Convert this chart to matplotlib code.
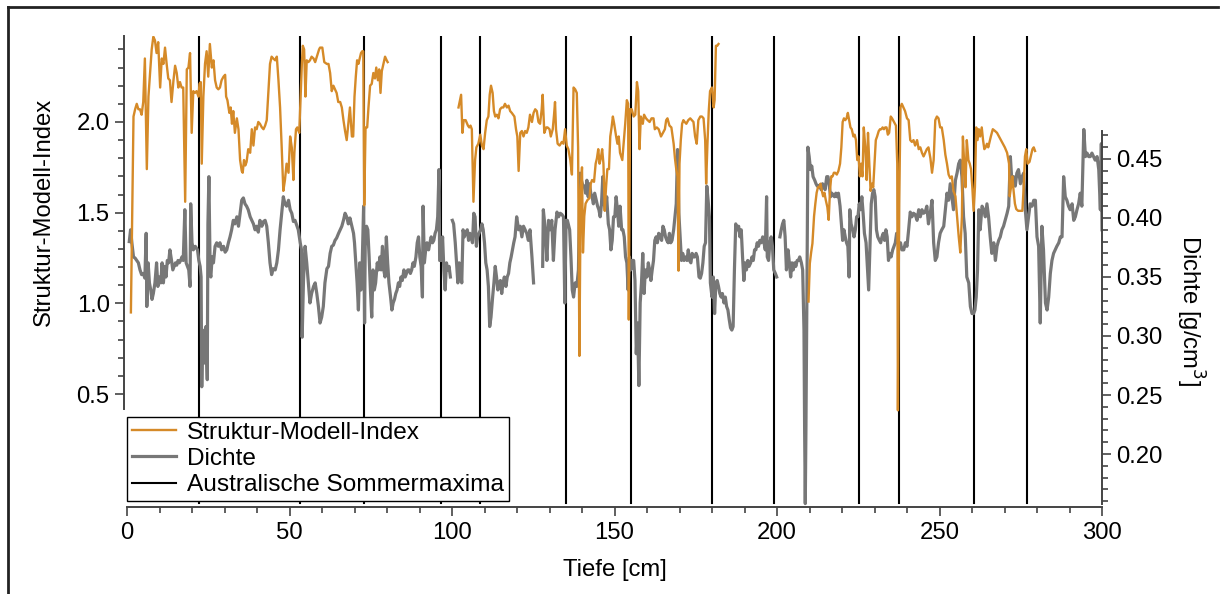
import numpy as np
import matplotlib.pyplot as plt
from matplotlib.lines import Line2D
from matplotlib.ticker import FixedLocator

plt.rcParams["font.family"] = ["Liberation Sans", "DejaVu Sans"]
plt.rcParams["font.size"] = 17.2

NAN = float("nan")

# Struktur-Modell-Index (left axis), gaps as NaN
smi_depth = [
    1.2, 2.0, 2.5, 3.0, 3.5, 4.0, 4.5, 5.0, 5.5, 6.1, 6.6, 7.1, 7.6, 8.1, 8.6, 9.1, 9.6, 10.2, 10.7, 11.2,
    11.7, 12.2, 12.7, 13.2, 13.7, 14.3, 14.8, 15.3, 15.8, 16.3, 16.8, 17.3, 17.9, 18.4, 18.9, 19.4, 19.9,
    20.4, 20.9, 21.4, 22.0, 22.3, 22.7, 23.0, 23.5, 24.0, 24.5, 25.0, 25.5, 26.1, 26.6, 27.1, 27.6, 28.1,
    28.6, 29.1, 29.7, 30.2, 30.5, 30.9, 31.5, 31.9, 32.3, 32.7, 33.2, 33.8, 34.3, 34.8, 35.3, 35.6, 36.0,
    36.4, 36.8, 37.3, 37.9, 38.4, 38.9, 39.4, 39.9, 40.4, 40.9, 41.5, 42.0, 42.5, 43.0, 43.5, 44.0, 44.5,
    45.0, 45.6, 46.1, 46.6, 47.1, 47.6, 48.1, 48.6, 49.1, 49.7, 50.2, 50.7, 51.2, 51.5, 52.0, 52.4, 53.0,
    53.8, 54.1, 54.5, 54.9, 55.3, 55.8, 56.3, 56.8, 57.4, 57.9, 58.4, 59.1, 59.4, 60.1, 60.7, 61.5, 62.0,
    62.5, 63.0, 63.5, 64.0, 64.5, 65.0, 65.6, 66.1, 66.6, 67.1, 67.6, 68.1, 68.6, 69.2, 69.6, 70.0, 70.4,
    70.8, 71.2, 71.6, 72.0, 72.4, 72.7, 73.0, 73.4, 73.9, 74.3, 74.8, 75.3, 75.8, 76.3, 76.7, 77.2, 77.6,
    78.0, 78.4, 78.9, 79.4, 79.9, 80.2, 91.0,
    102.0, 102.8, 103.2, 103.6, 104.2, 104.9, 105.3, 105.7, 106.1, 106.6, 107.1, 107.5, 108.1, 108.7,
    109.2, 109.7, 110.2, 110.7, 111.2, 111.6, 112.0, 112.5, 112.9, 113.3, 113.8, 114.3, 114.8, 115.3,
    115.8, 116.3, 116.9, 117.4, 117.9, 118.4, 119.2, 119.7, 120.1, 120.5, 121.0, 121.5, 122.0, 122.5,
    123.0, 123.5, 124.0, 124.6, 125.1, 125.6, 126.1, 126.6, 127.1, 127.6, 127.9, 128.4, 129.0, 129.4,
    130.0, 130.4, 131.0, 131.4, 131.7, 132.0, 132.5, 133.1, 133.8, 134.3, 134.8, 135.3, 135.8, 136.4,
    136.9, 137.4, 137.9, 138.4, 138.8, 139.2, 139.6, 140.0, 140.3, 140.7, 141.1, 141.7, 142.3, 142.7,
    143.1, 143.7, 144.2, 144.6, 145.0, 145.4, 145.8, 146.2, 146.6, 147.0, 147.4, 147.8, 148.3, 148.7,
    149.1, 149.5, 149.9, 150.5, 150.9, 151.3, 151.7, 152.4, 152.8, 153.3, 153.8, 154.2, 154.4, 154.8,
    155.3, 155.9, 156.4, 156.9, 157.3, 157.7, 158.1, 158.7, 159.1, 159.7, 160.2, 160.8, 161.4, 162.0,
    162.4, 163.0, 163.6, 164.3, 164.9, 165.5, 165.9, 166.3, 166.9, 167.5, 168.2, 168.6, 169.0, 169.4,
    169.7, 170.0, 170.4, 170.8, 171.2, 171.6, 172.1, 172.7, 173.3, 173.8, 174.3, 174.8, 175.3, 175.8,
    176.4, 176.9, 177.4, 177.9, 178.2, 178.6, 179.0, 179.4, 180.0, 180.5, 180.8, 181.2, 181.6, 182.0, 195.0,
    209.7, 210.1, 210.5, 210.9, 211.4, 211.8, 212.2, 212.6, 213.0, 213.4, 213.8, 214.2, 214.6, 215.0,
    215.5, 215.9, 216.3, 216.7, 217.1, 217.5, 217.9, 218.4, 218.9, 219.4, 219.8, 220.2, 220.6, 221.0,
    221.4, 221.8, 222.2, 222.6, 223.0, 223.5, 223.9, 224.3, 224.7, 225.1, 225.5, 225.9, 226.3, 226.7,
    227.2, 227.6, 228.0, 228.4, 228.8, 229.2, 229.6, 230.0, 230.4, 230.8, 231.3, 231.7, 232.1, 232.5,
    232.9, 233.3, 233.7, 234.1, 234.5, 235.0, 235.4, 236.0, 236.6, 237.0, 237.2, 237.6, 238.0, 238.4,
    238.9, 239.4, 240.0, 240.5, 241.0, 241.5, 242.0, 242.5, 243.1, 243.6, 244.1, 244.6, 245.1, 245.6,
    246.1, 246.6, 247.2, 247.7, 248.2, 248.7, 249.2, 249.7, 250.2, 250.7, 251.3, 251.8, 252.3, 252.8,
    253.3, 253.8, 254.3, 254.9, 255.4, 255.9, 256.4, 256.9, 257.2, 257.6, 258.0, 258.4, 258.9, 259.3,
    259.7, 260.1, 260.5, 260.9, 261.3, 261.7, 262.1, 262.5, 263.0, 263.4, 263.8, 264.2, 264.6, 265.0,
    265.4, 265.8, 266.4, 267.1, 267.7, 268.3, 268.9, 269.5, 270.1, 270.8, 271.4, 271.6, 272.0, 272.4,
    272.8, 273.2, 273.6, 274.2, 274.9, 275.5, 275.9, 276.3, 276.7, 277.1, 277.7, 278.1, 278.6, 279.0, 279.4,
]
smi = [
    0.95, 2.03, 2.07, 2.10, 2.07, 2.07, 2.04, 2.11, 2.35, 1.74, 2.14, 2.27, 2.40, 2.47, 2.45, 2.38, 2.44, 2.19,
    2.35, 2.32, 2.41, 2.32, 2.24, 2.23, 2.11, 2.23, 2.31, 2.27, 2.19, 2.22, 2.19, 2.19, 1.56, 2.29, 2.30, 2.38,
    1.94, 2.17, 2.16, 2.17, 2.14, 2.21, 2.22, 1.77, 2.14, 2.32, 2.39, 2.25, 2.43, 2.30, 2.34, 2.23, 2.19, 2.18,
    2.19, 2.23, 2.25, 2.26, 2.14, 2.12, 2.05, 2.08, 1.99, 2.06, 1.94, 2.02, 1.96, 1.79, 1.73, 1.72, 1.79, 1.76,
    1.78, 1.85, 1.83, 1.96, 1.87, 1.97, 1.96, 2.00, 1.99, 1.97, 1.96, 1.98, 2.01, 2.17, 2.32, 2.36, 2.35, 2.34,
    2.36, 2.23, 2.08, 1.86, 1.62, 1.68, 1.77, 1.72, 1.92, 1.86, 1.68, 1.83, 1.96, 1.97, 1.94, 2.32, 2.42, 2.40,
    2.14, 2.34, 2.33, 2.34, 2.36, 2.35, 2.33, 2.36, 2.40, 2.41, 2.41, 2.33, 2.32, 2.32, 2.27, 2.17, 2.20, 2.18,
    2.16, 2.11, 2.11, 2.08, 2.01, 1.95, 1.90, 1.99, 2.08, 1.92, 1.92, 2.14, 2.25, 2.34, 2.32, 2.35, 2.38, 2.39,
    2.39, 1.54, 1.97, 1.97, 2.08, 2.20, 2.21, 2.27, 2.24, 2.30, 2.23, 2.29, 2.16, 2.28, 2.32, 2.36, 2.34, 2.33,
    NAN,
    2.08, 2.15, 1.94, 2.01, 2.01, 1.98, 1.97, 1.98, 1.96, 1.56, 1.79, 1.86, 1.88, 1.93, 1.87, 1.85, 1.94, 2.01,
    2.03, 2.15, 2.20, 2.16, 2.06, 2.03, 2.04, 2.02, 2.07, 2.08, 2.08, 2.10, 2.08, 2.09, 2.06, 2.05, 2.03, 1.96,
    1.92, 1.73, 1.94, 1.95, 1.92, 1.95, 1.94, 1.97, 2.04, 2.00, 2.05, 2.07, 2.06, 2.00, 1.99, 2.07, 2.15, 1.94,
    1.97, 1.97, 1.96, 1.92, 1.96, 2.04, 2.11, 1.96, 1.88, 1.87, 1.89, 1.88, 1.96, 1.87, 1.85, 1.79, 1.71, 2.19,
    2.18, 2.16, 1.86, 0.71, 1.62, 1.75, 1.28, 1.48, 1.55, 1.57, 1.58, 1.66, 1.68, 1.67, 1.77, 1.80, 1.85, 1.77,
    1.80, 1.85, 1.77, 1.51, 1.64, 1.74, 1.74, 1.92, 1.97, 2.03, 1.99, 1.92, 1.88, 1.92, 1.83, 1.79, 1.88, 1.99,
    2.12, 2.10, 0.91, 2.07, 2.07, 2.03, 2.04, 2.22, 2.17, 1.85, 2.03, 1.99, 2.04, 2.02, 2.01, 2.00, 2.02, 2.02,
    1.96, 1.97, 1.96, 1.92, 1.94, 1.96, 2.01, 2.02, 1.98, 1.97, 1.88, 1.80, 1.74, 1.70, 1.18, 1.77, 1.90, 1.99,
    2.01, 2.00, 1.99, 2.01, 2.02, 2.01, 2.00, 1.92, 1.88, 2.01, 2.03, 2.03, 2.02, 1.90, 1.66, 1.88, 2.06, 2.17,
    2.19, 2.08, 2.12, 2.42, 2.42, 2.43,
    NAN,
    1.01, 1.22, 1.28, 1.33, 1.48, 1.55, 1.61, 1.64, 1.64, 1.66, 1.62, 1.59, 1.61, 1.57, 1.53, 1.46, 1.62, 1.70,
    1.70, 1.72, 1.72, 1.71, 1.73, 1.77, 1.86, 2.00, 2.02, 2.01, 2.02, 2.05, 2.01, 1.97, 1.96, 1.92, 1.93, 1.90,
    1.79, 1.81, 1.70, 1.77, 1.70, 1.97, 1.85, 1.68, 1.94, 1.77, 1.62, 1.66, 1.64, 1.77, 1.90, 1.92, 1.95, 1.96,
    1.96, 1.97, 1.96, 1.97, 1.97, 1.93, 1.94, 2.03, 2.02, 2.00, 1.98, 1.77, 0.41, 1.55, 2.08, 2.10, 2.08, 2.06,
    2.02, 2.01, 1.90, 1.89, 1.90, 1.87, 1.90, 1.85, 1.86, 1.83, 1.81, 1.83, 1.85, 1.86, 1.80, 1.72, 1.79, 2.01,
    2.03, 2.02, 1.97, 1.97, 1.90, 1.82, 1.77, 1.71, 1.69, 1.70, 1.62, 1.59, 1.48, 1.37, 1.28, 1.48, 1.92, 1.77,
    1.64, 1.90, 1.79, 1.77, 1.74, 1.64, 1.51, 1.64, 1.97, 1.90, 1.96, 1.92, 1.97, 1.90, 1.85, 1.86, 1.88, 1.86,
    1.89, 1.92, 1.96, 1.95, 1.94, 1.92, 1.90, 1.88, 1.86, 1.83, 1.77, 1.59, 1.64, 1.70, 1.62, 1.55, 1.52, 1.51,
    1.51, 1.51, 1.64, 1.81, 1.85, 1.77, 1.78, 1.81, 1.85, 1.86, 1.84,
]

# Dichte in g/cm^3 (right axis), gaps as NaN
dens_depth = [
    0.7, 1.1, 1.5, 2.0, 2.5, 3.0, 3.5, 4.0, 4.5, 5.0, 5.5, 5.9, 6.1, 6.5, 6.9, 7.3, 7.7, 8.1, 8.6, 9.1, 9.5,
    10.0, 10.4, 10.8, 11.2, 11.6, 12.0, 12.4, 12.8, 13.2, 13.7, 14.1, 14.5, 14.9, 15.3, 15.7, 16.1, 16.5,
    16.9, 17.3, 17.8, 18.2, 18.6, 19.0, 19.4, 19.6, 20.0, 20.4, 21.0, 21.7, 22.1, 22.5, 22.8, 23.0, 23.3,
    23.7, 24.0, 24.3, 24.7, 24.9, 25.2, 25.6, 25.8, 26.2, 26.6, 27.1, 27.6, 28.1, 28.6, 29.1, 29.7, 30.2,
    30.7, 31.2, 31.7, 32.2, 32.7, 33.2, 33.8, 34.3, 34.8, 35.3, 35.8, 36.3, 36.8, 37.3, 37.9, 38.4, 38.9,
    39.4, 39.9, 40.4, 40.9, 41.5, 42.0, 42.5, 43.0, 43.5, 44.0, 44.5, 45.0, 45.6, 46.1, 46.6, 47.1, 47.6,
    48.1, 48.6, 49.1, 49.7, 50.2, 50.7, 51.2, 51.7, 52.2, 52.7, 53.3, 53.7, 53.9, 54.3, 54.8, 55.3, 55.8,
    56.3, 56.8, 57.4, 57.9, 58.4, 58.9, 59.4, 59.9, 60.4, 60.9, 61.5, 62.0, 62.5, 63.0, 63.5, 64.0, 64.5,
    65.1, 65.6, 66.1, 66.6, 67.1, 67.6, 68.1, 68.6, 69.2, 69.7, 70.0, 70.4, 70.8, 71.2, 71.6, 72.0, 72.4,
    72.8, 73.1, 73.3, 73.7, 74.1, 74.5, 74.9, 75.3, 75.7, 76.1, 76.5, 77.0, 77.4, 77.8, 78.2, 78.6, 79.0,
    79.4, 79.8, 80.2, 80.6, 81.1, 81.5, 81.9, 82.3, 82.7, 83.1, 83.5, 83.9, 84.3, 84.7, 85.2, 85.6, 86.0,
    86.4, 86.8, 87.2, 87.6, 88.0, 88.4, 88.9, 89.3, 89.7, 90.1, 90.5, 90.9, 91.1, 91.5, 91.9, 92.3, 92.8,
    93.2, 93.6, 94.0, 94.4, 94.8, 95.2, 95.6, 96.0, 96.2, 96.7, 97.1, 97.5, 97.9, 98.3, 98.7, 99.1, 99.5,
    99.8,
    100.1, 100.5, 101.0, 101.4, 101.8, 102.2, 102.6, 103.0, 103.4, 103.8, 104.2, 104.7, 105.1, 105.5, 105.9,
    106.3, 106.7, 107.1, 107.5, 107.9, 108.3, 108.8, 109.2, 109.6, 110.0, 110.4, 110.8, 111.2, 111.6, 112.0,
    112.5, 112.9, 113.3, 113.7, 114.1, 114.5, 114.9, 115.3, 115.7, 116.1, 116.6, 117.0, 117.4, 117.8, 118.2,
    118.6, 119.0, 119.4, 119.9, 120.5, 121.0, 121.5, 122.0, 122.5, 123.0, 123.5, 124.0, 124.6, 125.1, 126.5,
    127.9, 128.1, 128.7, 129.2, 129.7, 130.2, 130.7, 131.2, 131.7, 132.3, 132.8, 133.3, 133.8, 134.3, 134.7,
    135.1, 135.5, 136.2, 136.6, 137.0, 137.4, 137.9, 138.4, 138.9, 139.4, 139.8, 140.3, 140.7, 141.1, 141.5,
    141.9, 142.3, 142.7, 143.1, 143.5, 143.9, 144.4, 144.8, 145.2, 145.6, 146.0, 146.4, 146.8, 147.2, 147.6,
    148.1, 148.5, 148.9, 149.3, 149.7, 150.1, 150.5, 150.9, 151.3, 151.7, 152.2, 152.6, 153.0, 153.4, 153.8,
    154.2, 154.6, 155.0, 155.4, 155.9, 156.3, 156.7, 157.1, 157.5, 157.9, 158.3, 158.7, 159.1, 159.5, 160.0,
    160.4, 160.8, 161.2, 161.6, 162.0, 162.4, 162.8, 163.2, 163.6, 164.1, 164.5, 164.9, 165.3, 165.7, 166.1,
    166.5, 166.9, 167.3, 167.7, 168.2, 168.6, 169.0, 169.4, 169.8, 170.2, 170.6, 171.0, 171.4, 171.9, 172.3,
    172.7, 173.1, 173.5, 173.9, 174.3, 174.7, 175.1, 175.5, 176.0, 176.4, 176.8, 177.2, 177.6, 178.0, 178.4,
    178.8, 179.2, 179.5, 180.0, 180.4, 180.8, 181.2, 181.6, 182.0, 182.4, 182.8, 183.2, 183.7, 184.1, 184.5,
    184.9, 185.3, 185.7, 186.1, 186.5, 186.9, 187.3, 187.8, 188.2, 188.6, 189.0, 189.4, 189.8, 190.2, 190.6,
    191.0, 191.4, 191.9, 192.3, 192.7, 193.1, 193.5, 193.9, 194.3, 194.7, 195.1, 195.6, 196.0, 196.4, 196.8,
    197.0, 197.4, 197.8, 198.2, 198.6, 199.0, 199.5, 199.9, 200.4,
    200.9, 201.3, 201.7, 202.1, 202.5, 202.9, 203.4, 203.8, 204.2, 204.6, 205.0, 205.4, 205.8, 206.2, 206.6,
    207.0, 207.5, 207.9, 208.3, 208.5, 208.7, 208.9, 209.2, 209.5, 209.9, 210.3, 210.7, 211.1, 211.6, 212.0,
    212.4, 212.8, 213.2, 213.6, 214.0, 214.4, 214.8, 215.3, 215.7, 216.1, 216.5, 216.9, 217.3, 217.7, 218.1,
    218.5, 218.9, 219.4, 219.8, 220.2, 220.6, 221.0, 221.4, 221.8, 222.2, 222.4, 222.8, 223.3, 223.7, 224.1,
    224.5, 224.9, 225.3, 225.7, 226.1, 226.5, 226.9, 227.4, 227.8, 228.2, 228.6, 229.0, 229.4, 229.8, 230.2,
    230.6, 231.0, 231.5, 231.9, 232.3, 232.7, 233.1, 233.5, 233.9, 234.3, 234.7, 235.1, 235.6, 236.0, 236.4,
    236.8, 237.2, 237.6, 238.0, 238.4, 239.0, 239.5, 240.0, 240.5, 241.0, 241.5, 242.0, 242.5, 243.1, 243.6,
    244.1, 244.6, 245.1, 245.6, 246.1, 246.6, 247.2, 247.7, 248.2, 248.7, 249.2, 249.7, 250.2, 250.7, 251.3,
    251.8, 252.3, 252.8, 253.3, 253.8, 254.3, 254.9, 255.4, 255.9, 256.4, 256.9, 257.4, 257.9, 258.4, 259.0,
    259.5, 260.0, 260.5, 260.9, 261.3, 261.7, 262.1, 262.5, 263.1, 263.6, 264.1, 264.6, 265.1, 265.6, 266.1,
    266.7, 267.2, 267.7, 268.2, 268.7, 269.2, 269.7, 270.2, 270.8, 271.3, 271.8, 272.3, 272.8, 273.3, 273.8,
    274.3, 274.9, 275.4, 275.9, 276.4, 276.9, 277.4, 277.9, 278.5, 279.0, 279.5, 280.0, 280.5, 281.0, 281.5,
    282.0, 282.6, 283.1, 283.6, 284.1, 284.6, 285.1, 285.6, 286.1, 286.7, 287.2, 287.7, 288.2, 288.7, 289.2,
    289.7, 290.2, 290.8, 291.3, 291.8, 292.3, 292.8, 293.3, 293.8, 294.4, 294.9, 295.4, 295.9, 296.4, 296.9,
    297.4, 297.9, 298.5, 299.0, 299.5, 299.8, 300.0,
]
dens = [
    0.380, 0.390, 0.379, 0.367, 0.366, 0.364, 0.362, 0.356, 0.352, 0.353, 0.349, 0.387, 0.325, 0.362, 0.345,
    0.339, 0.331, 0.336, 0.345, 0.362, 0.342, 0.350, 0.345, 0.362, 0.345, 0.359, 0.350, 0.364, 0.362, 0.373,
    0.364, 0.356, 0.359, 0.362, 0.360, 0.364, 0.362, 0.364, 0.367, 0.364, 0.407, 0.362, 0.359, 0.356, 0.342,
    0.412, 0.379, 0.373, 0.376, 0.373, 0.364, 0.359, 0.350, 0.257, 0.305, 0.297, 0.277, 0.308, 0.263, 0.395,
    0.435, 0.353, 0.350, 0.367, 0.362, 0.376, 0.379, 0.376, 0.379, 0.373, 0.376, 0.371, 0.373, 0.379, 0.384,
    0.390, 0.398, 0.395, 0.401, 0.393, 0.404, 0.415, 0.417, 0.412, 0.410, 0.407, 0.401, 0.398, 0.395, 0.390,
    0.393, 0.388, 0.398, 0.393, 0.397, 0.398, 0.393, 0.379, 0.362, 0.352, 0.357, 0.356, 0.362, 0.373, 0.390,
    0.404, 0.418, 0.412, 0.410, 0.415, 0.407, 0.404, 0.397, 0.398, 0.394, 0.390, 0.379, 0.373, 0.299, 0.347,
    0.376, 0.362, 0.345, 0.328, 0.336, 0.342, 0.345, 0.336, 0.325, 0.311, 0.316, 0.325, 0.345, 0.357, 0.359,
    0.370, 0.376, 0.377, 0.381, 0.383, 0.387, 0.390, 0.393, 0.398, 0.404, 0.401, 0.395, 0.400, 0.393, 0.387,
    0.379, 0.362, 0.345, 0.322, 0.362, 0.339, 0.364, 0.410, 0.311, 0.376, 0.393, 0.390, 0.367, 0.339, 0.316,
    0.356, 0.339, 0.345, 0.362, 0.356, 0.367, 0.356, 0.376, 0.356, 0.350, 0.384, 0.362, 0.345, 0.333, 0.322,
    0.328, 0.331, 0.336, 0.339, 0.345, 0.342, 0.350, 0.347, 0.356, 0.350, 0.353, 0.356, 0.356, 0.353, 0.356,
    0.362, 0.359, 0.367, 0.379, 0.384, 0.367, 0.359, 0.333, 0.410, 0.362, 0.373, 0.379, 0.373, 0.379, 0.384,
    0.379, 0.381, 0.387, 0.390, 0.401, 0.441, 0.364, 0.364, 0.384, 0.356, 0.339, 0.362, 0.356, 0.359, 0.350,
    NAN,
    0.398, 0.395, 0.379, 0.362, 0.345, 0.362, 0.356, 0.345, 0.390, 0.384, 0.387, 0.390, 0.381, 0.387, 0.384,
    0.379, 0.404, 0.401, 0.376, 0.384, 0.387, 0.390, 0.395, 0.390, 0.379, 0.362, 0.356, 0.342, 0.308, 0.316,
    0.333, 0.345, 0.359, 0.350, 0.339, 0.345, 0.347, 0.336, 0.345, 0.350, 0.342, 0.350, 0.353, 0.362, 0.367,
    0.373, 0.379, 0.384, 0.401, 0.390, 0.393, 0.384, 0.393, 0.390, 0.387, 0.381, 0.390, 0.367, 0.345, NAN,
    0.359, 0.407, 0.390, 0.364, 0.398, 0.390, 0.398, 0.364, 0.390, 0.405, 0.401, 0.404, 0.403, 0.401, 0.328,
    0.398, 0.398, 0.390, 0.367, 0.339, 0.333, 0.345, 0.342, 0.356, 0.438, 0.432, 0.427, 0.427, 0.421, 0.432,
    0.418, 0.429, 0.421, 0.418, 0.412, 0.421, 0.415, 0.410, 0.407, 0.401, 0.412, 0.435, 0.412, 0.407, 0.418,
    0.395, 0.390, 0.373, 0.381, 0.401, 0.401, 0.418, 0.407, 0.393, 0.410, 0.390, 0.390, 0.384, 0.367, 0.362,
    0.339, 0.367, 0.356, 0.364, 0.364, 0.347, 0.285, 0.311, 0.258, 0.328, 0.345, 0.370, 0.336, 0.356, 0.350,
    0.362, 0.356, 0.347, 0.356, 0.364, 0.381, 0.384, 0.379, 0.387, 0.384, 0.381, 0.393, 0.390, 0.384, 0.381,
    0.379, 0.387, 0.379, 0.381, 0.390, 0.401, 0.412, 0.458, 0.404, 0.384, 0.364, 0.370, 0.364, 0.367, 0.364,
    0.373, 0.364, 0.362, 0.370, 0.367, 0.367, 0.370, 0.367, 0.350, 0.349, 0.353, 0.362, 0.376, 0.379, 0.427,
    0.415, 0.401, 0.345, 0.333, 0.350, 0.319, 0.345, 0.347, 0.342, 0.336, 0.333, 0.336, 0.328, 0.333, 0.325,
    0.322, 0.314, 0.307, 0.305, 0.308, 0.356, 0.395, 0.390, 0.393, 0.384, 0.390, 0.367, 0.347, 0.362, 0.356,
    0.364, 0.359, 0.362, 0.367, 0.364, 0.373, 0.373, 0.379, 0.376, 0.381, 0.379, 0.384, 0.379, 0.373, 0.418,
    0.367, 0.364, 0.379, 0.384, 0.376, 0.356, 0.353, 0.350, NAN,
    0.384, 0.390, 0.395, 0.398, 0.384, 0.356, 0.373, 0.362, 0.350, 0.362, 0.356, 0.362, 0.359, 0.364, 0.364,
    0.367, 0.362, 0.356, 0.305, 0.220, 0.158, 0.220, 0.333, 0.460, 0.452, 0.441, 0.444, 0.435, 0.432, 0.429,
    0.427, 0.427, 0.428, 0.424, 0.429, 0.427, 0.424, 0.435, 0.435, 0.427, 0.418, 0.421, 0.419, 0.418, 0.421,
    0.418, 0.421, 0.410, 0.395, 0.381, 0.390, 0.384, 0.379, 0.376, 0.350, 0.407, 0.395, 0.390, 0.384, 0.390,
    0.401, 0.401, 0.412, 0.407, 0.418, 0.404, 0.387, 0.379, 0.359, 0.339, 0.376, 0.412, 0.421, 0.424, 0.418,
    0.390, 0.384, 0.381, 0.379, 0.384, 0.387, 0.381, 0.390, 0.384, 0.364, 0.370, 0.367, 0.373, 0.376, 0.379,
    0.387, 0.379, 0.376, 0.379, 0.373, 0.373, 0.379, 0.376, 0.390, 0.405, 0.401, 0.404, 0.403, 0.398, 0.407,
    0.401, 0.407, 0.404, 0.405, 0.410, 0.395, 0.405, 0.415, 0.379, 0.364, 0.367, 0.379, 0.387, 0.390, 0.393,
    0.407, 0.421, 0.415, 0.429, 0.418, 0.407, 0.432, 0.438, 0.446, 0.449, 0.435, 0.401, 0.387, 0.350, 0.345,
    0.325, 0.319, 0.319, 0.322, 0.333, 0.356, 0.407, 0.390, 0.410, 0.407, 0.401, 0.412, 0.401, 0.384, 0.370,
    0.379, 0.364, 0.376, 0.381, 0.384, 0.390, 0.393, 0.398, 0.404, 0.410, 0.452, 0.429, 0.435, 0.427, 0.438,
    0.441, 0.429, 0.435, 0.438, 0.407, 0.390, 0.401, 0.412, 0.410, 0.415, 0.415, 0.384, 0.376, 0.311, 0.393,
    0.373, 0.328, 0.322, 0.333, 0.353, 0.364, 0.370, 0.373, 0.376, 0.379, 0.384, 0.384, 0.435, 0.418, 0.415,
    0.410, 0.407, 0.412, 0.398, 0.401, 0.407, 0.412, 0.421, 0.410, 0.475, 0.452, 0.455, 0.452, 0.452, 0.455,
    0.452, 0.449, 0.452, 0.441, 0.407, 0.463, 0.390,
]

# Australische Sommermaxima (Tiefe in cm)
summer_max = [22.2, 53.3, 73.0, 96.6, 108.6, 135.0, 155.0, 180.0, 199.0, 225.1, 237.6, 260.7, 277.0]

ORANGE = "#D58A28"
GREY = "#777777"
W, H = 1220, 594

fig = plt.figure(figsize=(W / 100, H / 100), dpi=100)
ax = fig.add_axes([127 / W, 1 - 507 / H, 975 / W, 471 / H])
ax2 = ax.twinx()

# black summer lines and density behind, SMI on top
for d in summer_max:
    ax2.axvline(d, ymin=0.008, ymax=1.0, color="black", lw=1.5, zorder=1)
ax2.plot(dens_depth, dens, color=GREY, lw=2.3, zorder=2)
ax.plot(smi_depth, smi, color=ORANGE, lw=1.7, zorder=3)
ax.set_zorder(ax2.get_zorder() + 1)
ax.patch.set_visible(False)

ax.set_xlim(0, 300)
ax.set_ylim(-0.123, 2.474)
ax2.set_ylim(0.1551, 0.5542)

for s in ["top", "right"]:
    ax.spines[s].set_visible(False)
for s in ["top", "left", "bottom"]:
    ax2.spines[s].set_visible(False)

spine_col = "#444444"
ax.spines["left"].set_position(("outward", 2))
ax.spines["left"].set_bounds(0.417, 2.474)
ax.spines["bottom"].set_bounds(0, 300)
ax2.spines["right"].set_bounds(0.158, 0.4737)
for sp in (ax.spines["left"], ax.spines["bottom"], ax2.spines["right"]):
    sp.set_color(spine_col)
    sp.set_linewidth(1.4)

ax.xaxis.set_major_locator(FixedLocator(np.arange(0, 301, 50)))
ax.xaxis.set_minor_locator(FixedLocator(np.arange(0, 301, 10)))
ax.yaxis.set_major_locator(FixedLocator([0.5, 1.0, 1.5, 2.0]))
ax.yaxis.set_minor_locator(FixedLocator(np.arange(0.5, 2.45, 0.1)))
ax2.yaxis.set_major_locator(FixedLocator([0.20, 0.25, 0.30, 0.35, 0.40, 0.45]))
ax2.yaxis.set_minor_locator(FixedLocator(np.arange(0.16, 0.475, 0.01)))
ax.set_xticklabels(["0", "50", "100", "150", "200", "250", "300"])
ax.set_yticklabels(["0.5", "1.0", "1.5", "2.0"])
ax2.set_yticklabels(["0.20", "0.25", "0.30", "0.35", "0.40", "0.45"])

ax.tick_params(axis="both", which="major", direction="out", length=6.5, width=1.2, color=spine_col, pad=4)
ax.tick_params(axis="both", which="minor", direction="out", length=4, width=1.2, color=spine_col)
ax2.tick_params(axis="y", which="major", direction="out", length=6.5, width=1.2, color=spine_col, pad=4)
ax2.tick_params(axis="y", which="minor", direction="out", length=4, width=1.2, color=spine_col)

ax.set_xlabel("Tiefe [cm]", labelpad=11)
ax.set_ylabel("Struktur-Modell-Index")
ax.yaxis.set_label_coords(-0.074, 0.626)
ax2.set_ylabel("Dichte [g/cm$^3$]", rotation=270, va="center")
ax2.yaxis.set_label_coords(1.09, 0.418)

handles = [
    Line2D([], [], color=ORANGE, lw=1.7),
    Line2D([], [], color=GREY, lw=2.3),
    Line2D([], [], color="black", lw=1.5),
]
labels = ["Struktur-Modell-Index", "Dichte", "Australische Sommermaxima"]
leg = ax.legend(
    handles, labels, loc="lower left",
    bbox_to_anchor=(127 / W, 1 - 501 / H), bbox_transform=fig.transFigure,
    borderaxespad=0, borderpad=0.2, handlelength=1.8, handletextpad=0.45,
    labelspacing=0.17, frameon=True, fancybox=False, fontsize=17.6,
)
leg.get_frame().set_edgecolor("black")
leg.get_frame().set_linewidth(1.0)
leg.get_frame().set_alpha(1.0)

# thin frame at left and top of the figure
fig.add_artist(Line2D([8 / W, 8 / W], [0, 1 - 7 / H], color="#222222", lw=2))
fig.add_artist(Line2D([8 / W, 1218 / W], [1 - 7 / H, 1 - 7 / H], color="#222222", lw=2))

fig.savefig("out.png", dpi=100)
